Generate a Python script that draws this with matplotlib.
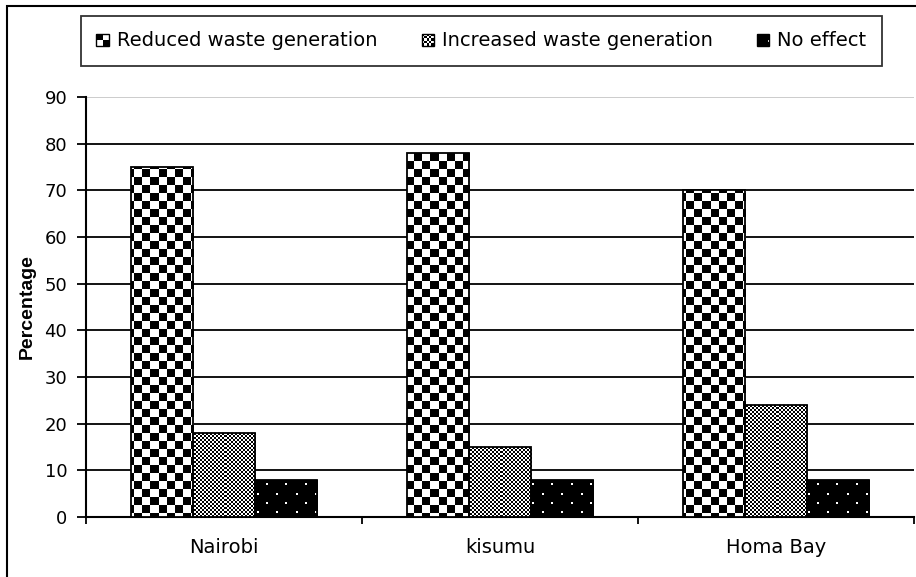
import numpy as np
import matplotlib
matplotlib.use("Agg")
import matplotlib.pyplot as plt
from matplotlib.patches import Rectangle
from matplotlib.legend_handler import HandlerBase

plt.rcParams['font.family'] = ['DejaVu Sans']

# data
towns = ['Nairobi', 'kisumu', 'Homa Bay']
series = ['Reduced waste generation', 'Increased waste generation', 'No effect']
reduced = [75, 78, 70]
increased = [18, 15, 24]
no_effect = [8, 8, 8]
yticks = [0, 10, 20, 30, 40, 50, 60, 70, 80, 90]


# pixel patterns: 1 = white, 0 = black
def big_checker(r, c):
    return ((r // 8 + c // 8) % 2).astype(float)


def small_checker(r, c):
    return ((r // 2 + c // 2) % 2).astype(float)


def dots(r, c):
    row = r // 9
    shift = np.where(row % 2 == 0, 0, 10)
    on = ((r % 9) < 2) & (((c + shift) % 19) < 2)
    return on.astype(float)


patterns = [big_checker, small_checker, dots]


class PatternHandler(HandlerBase):
    def __init__(self, pattern, offset=(0, 0)):
        super().__init__()
        self.pattern = pattern
        self.offset = offset

    def create_artists(self, legend, orig_handle, xdescent, ydescent,
                       width, height, fontsize, trans):
        n = 10
        size = min(width, height)
        x0 = -xdescent + (width - size) / 2
        y0 = -ydescent + (height - size) / 2
        cell = size / n
        rr, cc = np.mgrid[0:n, 0:n]
        img = self.pattern(rr + self.offset[0], cc + self.offset[1])
        arts = [Rectangle((x0, y0), size, size, facecolor='white',
                          edgecolor='none', transform=trans)]
        for i in range(n):
            for j in range(n):
                if img[i, j] < 0.5:
                    arts.append(Rectangle((x0 + j * cell, y0 + (n - 1 - i) * cell),
                                          cell, cell, facecolor='black',
                                          edgecolor='none', lw=0, transform=trans))
        arts.append(Rectangle((x0, y0), size, size, facecolor='none',
                              edgecolor='black', lw=1.0, transform=trans))
        return arts


fig = plt.figure(figsize=(9.16, 5.77), dpi=100)
ax = fig.add_axes([86 / 916, 60 / 577, 828 / 916, 420 / 577])

x = np.arange(len(towns))
w = 0.225
xlim = (-0.5, len(towns) - 0.5)
ylim = (0, 90)
ax.set_xlim(xlim)
ax.set_ylim(ylim)

# pixel grid the size of the plot area, so the textures come out crisp
H, W = 420, 828
rr, cc = np.mgrid[0:H, 0:W]

handles = []
for k, vals in enumerate([reduced, increased, no_effect]):
    bars = ax.bar(x + (k - 1) * w, vals, w, facecolor='none', edgecolor='black',
                  lw=1.3, zorder=4, label=series[k])
    tex = patterns[k](rr, cc)
    for b in bars:
        im = ax.imshow(tex, cmap='gray', vmin=0, vmax=1, extent=(*xlim, *ylim),
                       aspect='auto', interpolation='nearest', origin='upper', zorder=3)
        im.set_clip_path(b)
    handles.append(bars)

ax.set_yticks(yticks)
ax.set_xticks(x)
ax.set_xticklabels(towns)
ax.set_xticks(np.arange(len(towns) + 1) - 0.5, minor=True)
ax.tick_params(axis='x', which='major', length=0, pad=15, labelsize=14)
ax.tick_params(axis='x', which='minor', length=5, width=1.3, direction='out')
ax.tick_params(axis='y', length=6.5, width=1.3, direction='out', pad=7, labelsize=13)

ax.grid(axis='y', color='black', lw=1.3, zorder=1)
ax.set_axisbelow(True)
ax.yaxis.get_gridlines()[-1].set_color('#c8c8c8')
for s in ['top', 'right']:
    ax.spines[s].set_visible(False)
for s in ['left', 'bottom']:
    ax.spines[s].set_linewidth(1.5)

ax.set_ylabel('Percentage', fontweight='bold', fontsize=14,
              family=['Liberation Sans', 'DejaVu Sans'])
ax.yaxis.label.set_va('center')
ax.yaxis.set_label_coords(-0.0713, 0.5)

leg = fig.legend(handles, series, loc='center', bbox_to_anchor=(481.5 / 916, 1 - 41 / 577),
                 bbox_transform=fig.transFigure, ncol=3, fontsize=14,
                 frameon=True, fancybox=False, edgecolor='black',
                 handlelength=0.62, handleheight=0.62, handletextpad=0.41,
                 columnspacing=2.3, borderpad=0.82,
                 handler_map={handles[0]: PatternHandler(big_checker, (3, 3)),
                              handles[1]: PatternHandler(small_checker),
                              handles[2]: PatternHandler(dots, (4, 0))})
leg.get_frame().set_linewidth(1.3)

# outer chart border
fig.patches.append(Rectangle((7 / 916, -0.1), 2, 1 - 6 / 577 + 0.1, fill=False,
                             edgecolor='black', lw=1.5, transform=fig.transFigure))

fig.savefig('out.png', dpi=100)
